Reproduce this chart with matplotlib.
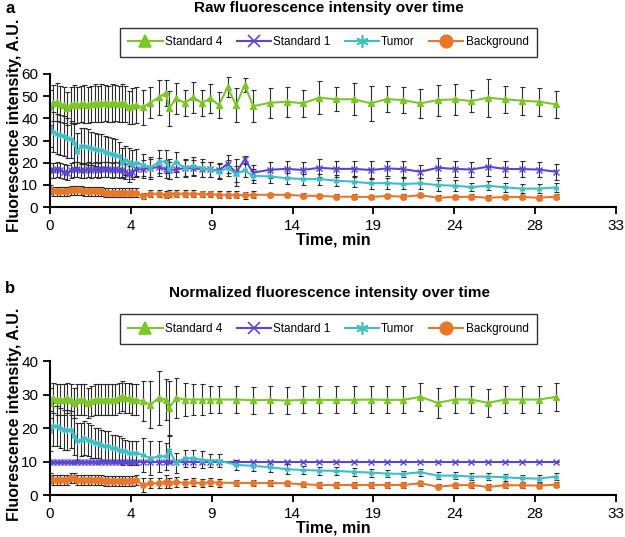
import numpy as np
import matplotlib
matplotlib.use("Agg")
from matplotlib import pyplot as plt
from matplotlib.lines import Line2D

plt.rcParams['font.family'] = ['Liberation Sans', 'DejaVu Sans']

# ---- time points (min) ----
t_dense = [0.0, 0.2, 0.4, 0.6, 0.8, 1.0, 1.2, 1.4, 1.6, 1.8, 2.0, 2.2, 2.4,
           2.6, 2.8, 3.0, 3.2, 3.4, 3.6, 3.8, 4.0, 4.2, 4.4, 4.6, 4.8, 5.0]
t_mid_a = [5.4, 5.85, 6.35, 6.75, 6.95, 7.35, 7.85, 8.35, 8.85, 9.35, 9.85,
           10.35, 10.85, 11.35, 11.85]
t_mid_b = [5.4, 5.85, 6.35, 6.75, 6.95, 7.35, 7.85, 8.35, 8.85, 9.35, 9.85,
           10.85, 11.85]
t_long = [12.8, 13.8, 14.75, 15.7, 16.7, 17.7, 18.7, 19.65, 20.6, 21.6, 22.6,
          23.6, 24.55, 25.55, 26.5, 27.5, 28.5, 29.5]
time_a = t_dense + t_mid_a + t_long
time_b = t_dense + t_mid_b + t_long

# ---- panel a: raw ----
std4_a = [45, 47, 47.5, 46.5, 46, 44.5, 46, 46.5, 46, 46.5, 46.5, 46, 46.5,
          47, 46.5, 47, 47, 46.5, 47, 47, 46.5, 47, 46.5, 45, 45.5, 46,
          45, 47, 49.5, 51.5, 44.5, 49, 47, 49.5, 47, 49, 46, 54, 46, 55, 45.5,
          47, 47.5, 46.8, 49.3, 48.6, 48.6, 46.8, 48.7, 48.2, 46.8, 48.2, 48.6,
          47.8, 49.3, 48.6, 48, 47.5, 46.3]
std4_a_err = [8, 8, 8.5, 8, 8, 7.5, 8, 8.5, 8, 8, 8.5, 8, 8, 8.5, 8, 8.5, 8, 8,
              8.5, 8, 8, 8.5, 8, 7.5, 8, 8,
              8, 7, 8, 6, 8, 7, 6, 7, 6, 6.5, 6, 4.5, 7.8, 3, 7.2,
              6.8, 6.8, 6, 7.5, 5.5, 7.2, 8, 6, 6, 6.5, 7, 7, 5, 8.6, 6, 6.3, 6.3, 6]

std1_a = [16.5, 16.5, 17, 16.5, 16, 15.5, 16.5, 17, 17, 16.5, 16.5, 17, 16.5,
          17, 16.5, 17, 17, 17, 16.5, 17, 16.5, 16.5, 16, 15, 16, 17,
          17, 17.5, 18, 17, 16.5, 17, 17.5, 17.5, 17, 17, 16.5, 19.5, 15.5, 21.5, 15.5,
          16.8, 17.2, 16.7, 17.7, 17.2, 17.2, 16.7, 17.4, 17.1, 15.9, 17.7, 17.2,
          16.9, 18.2, 17.2, 17.1, 16.9, 15.9]
std1_a_err = [3.5] * 26 + [4, 4, 4, 4, 4, 3.5, 3.5, 3.5, 3.5, 3.5, 3.5, 4, 6, 1.5, 3.5] + \
             [3.5, 3.5, 3.5, 4, 3.5, 3.5, 4, 3.5, 3.5, 3, 4.5, 3.5, 3.5, 4, 3.5, 3.5, 3.5, 3.5]

tumor_a = [36, 34, 33, 32.5, 32, 31, 30.5, 29, 25, 27.5, 27.5, 27, 26.5,
           26, 25.5, 25.5, 25, 24.5, 24, 23.5, 23, 20, 21, 20.5, 19.5, 20,
           19, 17.5, 20.5, 20.5, 17, 20.5, 17.5, 18.5, 17.5, 17, 16, 17.5, 15, 16.5, 14,
           13.8, 13, 12.6, 12.6, 11.9, 11.4, 10.7, 10.8, 10.4, 10.7, 9.9, 9.6,
           9.0, 9.6, 8.9, 8.3, 8.3, 8.8]
tumor_a_err = [9, 9, 9, 9, 9, 9, 8.5, 8.5, 8.5, 8, 8, 8, 7.5, 7.5, 7.5, 7.5, 7,
               7, 7, 7, 6.5, 6.5, 6.5, 6, 6, 6,
               5, 5, 5, 5, 4.5, 4.5, 4, 4, 4, 3.5, 3.5, 3.5, 3.5, 3, 3,
               3, 2.5, 2.5, 2.5, 2.5, 2.5, 2.5, 2.5, 2.5, 2.5, 2.5, 2.5, 2, 2, 2, 2, 2, 2]

bkg_a = [8, 7, 7, 7, 7, 7, 7.5, 7.5, 7.5, 7.5, 7, 7, 7, 7, 7, 7, 6.5, 6.5,
         6.5, 6.5, 6.5, 6.5, 6.5, 6.5, 6.5, 6.5,
         5, 6, 6, 5.5, 6, 6, 6, 6, 5.8, 5.8, 5.5, 5.5, 5.5, 5.3, 5.5,
         5.5, 5.5, 5.1, 5.0, 4.65, 4.65, 4.5, 5.0, 4.65, 5.3, 4.2, 4.5, 4.65,
         4.2, 4.5, 4.5, 4.2, 4.65]
bkg_a_err = [2] * 26 + [1.5] * 15 + [1] * 18

# ---- panel b: normalized ----
std4_b = [27.5, 29, 28.5, 28.5, 28.5, 29, 28.5, 27.5, 28.5, 28.5, 28.5, 27.5,
          28, 28.5, 28.5, 28.5, 28.5, 28.5, 28.5, 28.5, 29, 29.5, 29, 29, 28.5, 28.5,
          28, 27, 29, 28.5, 26, 29, 28.5, 28.5, 28.5, 28.5, 28.5, 28.5, 28.3,
          28.4, 28.2, 28.4, 28.4, 28.4, 28.4, 28.5, 28.4, 28.4, 29.3, 27.5, 28.5,
          28.5, 27.5, 28.5, 28.5, 28.5, 29.3]
std4_b_err = [4.5] * 26 + [6, 7, 8, 6, 8, 6, 5, 4.5, 4.5, 4, 4, 4, 4] + \
             [4, 4, 4, 4, 4, 4, 4, 4, 4, 4.2, 4.4, 4, 4, 4.2, 4, 4, 4, 4.1]

std1_b = [10.0] * 57
std1_b_err = [0.2] * 57

tumor_b = [19, 20.5, 20.5, 20, 19.5, 19.5, 19.5, 17.5, 16, 16.5, 17, 16.5, 16,
           15.5, 15.5, 15, 14.5, 14.5, 14, 14, 13.5, 13, 13, 12.5, 12.5, 12.5,
           12, 11, 11.5, 11.5, 13.5, 9.5, 11, 11, 10.5, 10.3, 10.3, 9, 8.7,
           8.3, 7.7, 7.46, 7.3, 7.2, 6.9, 6.7, 6.4, 6.3, 6.8, 5.8, 5.8, 5.5, 5.5,
           5.3, 5.0, 4.9, 5.5]
tumor_b_err = [6, 6, 6, 6, 6, 6, 5.5, 5.5, 5.5, 5, 5, 5, 5, 4.5, 4.5, 4.5, 4.5,
               4.5, 4, 4, 4, 4, 3.5, 3.5, 3.5, 3.5,
               5, 5, 4.5, 4, 4, 3, 2.5, 2.5, 2.5, 2, 2, 1.5, 1.5,
               1.5, 1.5, 1.2, 1.2, 1.2, 1.2, 1.2, 1, 1, 1, 1, 1, 1, 1, 1, 1, 1, 1]

bkg_b = [5, 4.5, 4.5, 4.5, 4.5, 4.5, 5, 5, 4.5, 4.5, 4.5, 4.5, 4.5, 4.5, 4.5,
         4.5, 4.2, 4.2, 4.2, 4.2, 4.2, 4.2, 4.2, 4.2, 4.2, 4.5,
         3, 3.5, 3.5, 4, 3.5, 4, 3.5, 3.8, 3.5, 3.8, 3.7, 3.6, 3.6,
         3.6, 3.5, 3.2, 3.0, 3.0, 3.0, 3.0, 3.0, 3.0, 3.5, 2.5, 2.9, 3.0, 2.4,
         2.9, 2.9, 2.8, 3.1]
bkg_b_err = [1.5] * 26 + [2, 1.5, 1.5, 2, 1.5, 1.5, 1.2, 1.2, 1.2, 1.2, 1.2, 1, 1] + [0.8] * 18

series_names = ["Standard 4", "Standard 1", "Tumor", "Background"]
colors = ["#7cc62a", "#5b45d6", "#3fbfc4", "#e8772a"]
markers = ["^", "x", (6, 2, 0), "o"]

xtick_labels = ["0", "4", "9", "14", "19", "24", "28", "33"]


def draw_panel(ax, t, data, ymax):
    for (vals, errs), c, m in zip(data, colors, markers):
        ax.errorbar(t, vals, yerr=errs, fmt="none", ecolor="#2a2a2a",
                    elinewidth=0.8, capsize=1.8, capthick=0.8, zorder=1)
    for (vals, errs), c, m in zip(data, colors, markers):
        ax.plot(t, vals, color=c, marker=m, markersize=4, lw=1.5,
                markeredgewidth=1.0, zorder=2)
    ax.set_xlim(0, 33)
    ax.set_ylim(0, ymax)
    ax.set_xticks(np.linspace(0, 33, 8))
    ax.set_xticklabels(xtick_labels)
    ax.set_yticks(np.arange(0, ymax + 1, 10))
    ax.spines["top"].set_visible(False)
    ax.spines["right"].set_visible(False)
    ax.spines["left"].set_linewidth(1.5)
    ax.spines["bottom"].set_linewidth(1.5)
    ax.tick_params(direction="out", length=5, width=1.3, labelsize=11)
    ax.set_xlabel("Time, min", fontsize=11.5, fontweight="bold", labelpad=0)


fig = plt.figure(figsize=(6.25, 5.37), dpi=100)

ax_a = fig.add_axes([0.08, 0.6145, 0.9056, 0.2477])
ax_b = fig.add_axes([0.08, 0.0782, 0.9056, 0.2495])

draw_panel(ax_a, time_a, [(std4_a, std4_a_err), (std1_a, std1_a_err),
                          (tumor_a, tumor_a_err), (bkg_a, bkg_a_err)], 60)
draw_panel(ax_b, time_b, [(std4_b, std4_b_err), (std1_b, std1_b_err),
                          (tumor_b, tumor_b_err), (bkg_b, bkg_b_err)], 40)

handles = [Line2D([], [], color=c, marker=m, markersize=9, lw=1.5,
                  markeredgewidth=1.2) for c, m in zip(colors, markers)]

for ycen in [0.9209, 0.3873]:
    leg = fig.legend(handles, series_names, loc="center",
                     bbox_to_anchor=(0.5256, ycen), ncol=4, fontsize=8.5,
                     frameon=True, fancybox=False, edgecolor="black",
                     handlelength=2.9, columnspacing=1.2, handletextpad=0.2,
                     borderpad=0.75)
    leg.get_frame().set_linewidth(1.0)

# y axis labels (centred a little above the plot areas, as in the original)
fig.text(0.023, 0.766, "Fluorescence intensity, A.U.", rotation=90,
         ha="center", va="center", fontsize=11.5, fontweight="bold")
fig.text(0.023, 0.229, "Fluorescence intensity, A.U.", rotation=90,
         ha="center", va="center", fontsize=11.5, fontweight="bold")

fig.text(0.527, 0.985, "Raw fluorescence intensity over time", ha="center",
         va="center", fontsize=11, fontweight="bold")
fig.text(0.008, 0.985, "a", ha="left", va="center", fontsize=12, fontweight="bold")
fig.text(0.527, 0.454, "Normalized fluorescence intensity over time",
         ha="center", va="center", fontsize=11, fontweight="bold")
fig.text(0.008, 0.462, "b", ha="left", va="center", fontsize=12, fontweight="bold")

fig.savefig("out.png", dpi=100)
